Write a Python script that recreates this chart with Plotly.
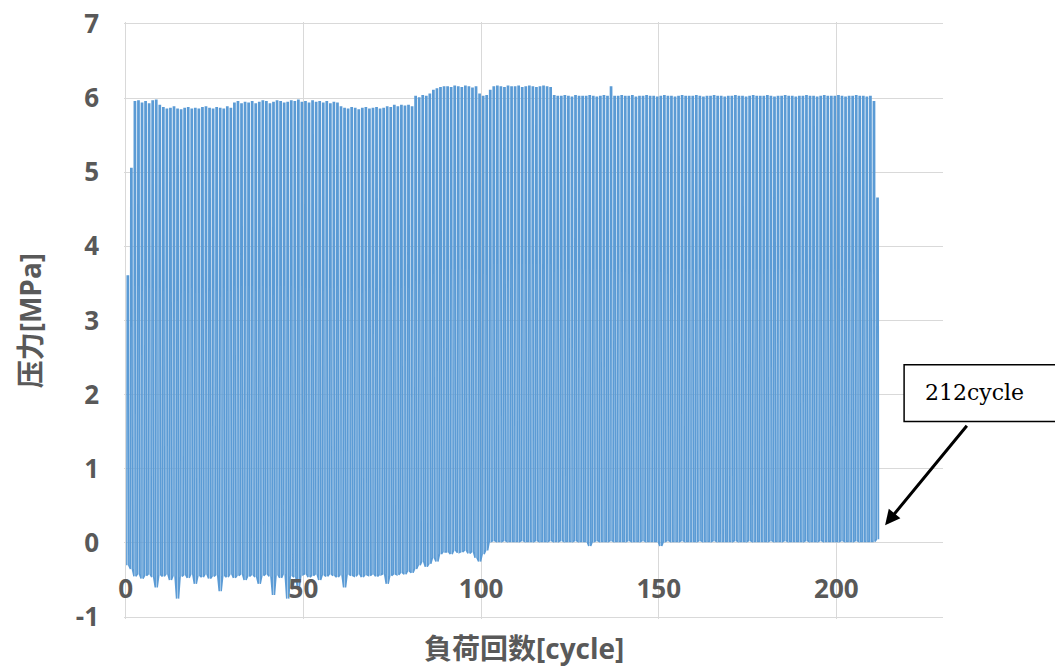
import plotly.graph_objects as go

# ---- data ----
cycle_peaks = [
    3.60, 5.05, 5.95, 5.96, 5.93, 5.95, 5.92, 5.96, 5.97, 5.90,
    5.87, 5.85, 5.86, 5.88, 5.85, 5.84, 5.86, 5.87, 5.85, 5.86,
    5.85, 5.87, 5.88, 5.86, 5.85, 5.87, 5.86, 5.85, 5.88, 5.86,
    5.93, 5.95, 5.92, 5.94, 5.93, 5.95, 5.92, 5.94, 5.96, 5.95,
    5.92, 5.94, 5.96, 5.95, 5.93, 5.94, 5.96, 5.95, 5.97, 5.94,
    5.95, 5.93, 5.96, 5.94, 5.95, 5.93, 5.95, 5.92, 5.94, 5.93,
    5.88, 5.86, 5.85, 5.87, 5.86, 5.84, 5.86, 5.87, 5.85, 5.86,
    5.87, 5.85, 5.86, 5.88, 5.87, 5.90, 5.88, 5.90, 5.89, 5.90,
    5.88, 6.02, 6.00, 6.03, 6.02, 6.05, 6.10, 6.12, 6.14, 6.15,
    6.15, 6.14, 6.16, 6.15, 6.14, 6.16, 6.15, 6.13, 6.15, 6.05,
    6.02, 6.03, 6.10, 6.15, 6.16, 6.15, 6.14, 6.16, 6.15, 6.15,
    6.16, 6.14, 6.15, 6.16, 6.15, 6.14, 6.15, 6.16, 6.15, 6.14,
    6.03, 6.02, 6.02, 6.03, 6.02, 6.01, 6.03, 6.02, 6.02, 6.02,
    6.03, 6.02, 6.01, 6.02, 6.03, 6.02, 6.15, 6.02, 6.02, 6.03,
    6.02, 6.02, 6.03, 6.01, 6.02, 6.02, 6.03, 6.02, 6.02, 6.01,
    6.02, 6.03, 6.02, 6.02, 6.01, 6.02, 6.03, 6.02, 6.02, 6.02,
    6.03, 6.02, 6.01, 6.02, 6.02, 6.03, 6.02, 6.02, 6.01, 6.02,
    6.02, 6.03, 6.02, 6.02, 6.01, 6.02, 6.03, 6.02, 6.02, 6.02,
    6.03, 6.02, 6.01, 6.02, 6.02, 6.03, 6.02, 6.02, 6.01, 6.02,
    6.02, 6.03, 6.02, 6.02, 6.01, 6.02, 6.03, 6.02, 6.02, 6.02,
    6.03, 6.02, 6.01, 6.02, 6.02, 6.03, 6.02, 6.02, 6.01, 6.02,
    5.95, 4.65,
]

cycle_troughs = [
    -0.30, -0.35, -0.45, -0.42, -0.48, -0.44, -0.42, -0.46, -0.60, -0.43,
    -0.45, -0.42, -0.50, -0.44, -0.75, -0.45, -0.43, -0.47, -0.42, -0.55,
    -0.44, -0.46, -0.42, -0.48, -0.45, -0.43, -0.65, -0.44, -0.46, -0.42,
    -0.47, -0.44, -0.42, -0.50, -0.45, -0.43, -0.46, -0.55, -0.44, -0.42,
    -0.45, -0.70, -0.43, -0.47, -0.42, -0.75, -0.44, -0.46, -0.60, -0.43,
    -0.42, -0.46, -0.44, -0.42, -0.50, -0.43, -0.45, -0.42, -0.44, -0.46,
    -0.43, -0.60, -0.42, -0.44, -0.45, -0.42, -0.46, -0.43, -0.44, -0.42,
    -0.45, -0.43, -0.42, -0.55, -0.44, -0.42, -0.43, -0.40, -0.42, -0.38,
    -0.40, -0.35, -0.30, -0.25, -0.32, -0.28, -0.20, -0.25, -0.15, -0.12,
    -0.12, -0.15, -0.10, -0.13, -0.12, -0.10, -0.14, -0.12, -0.20, -0.25,
    -0.15, -0.10, 0.02, 0.03, 0.02, 0.02, 0.03, 0.02, 0.02, 0.02,
    0.02, 0.03, 0.02, 0.02, 0.02, 0.03, 0.02, 0.02, 0.02, 0.03,
    0.02, 0.02, 0.03, 0.02, 0.02, 0.02, 0.03, 0.02, 0.02, 0.02,
    -0.04, 0.02, 0.03, 0.02, 0.02, 0.02, 0.03, 0.02, 0.02, 0.02,
    0.02, 0.03, 0.02, 0.02, 0.02, 0.03, 0.02, 0.02, 0.02, 0.02,
    -0.04, 0.02, 0.03, 0.02, 0.02, 0.02, 0.03, 0.02, 0.02, 0.02,
    0.02, 0.03, 0.02, 0.02, 0.02, 0.03, 0.02, 0.02, 0.02, 0.02,
    0.02, 0.03, 0.02, 0.02, 0.02, 0.03, 0.02, 0.02, 0.02, 0.02,
    0.02, 0.03, 0.02, 0.02, 0.02, 0.03, 0.02, 0.02, 0.02, 0.02,
    0.02, 0.03, 0.02, 0.02, 0.02, 0.03, 0.02, 0.02, 0.02, 0.02,
    0.02, 0.03, 0.02, 0.02, 0.02, 0.03, 0.02, 0.02, 0.02, 0.02,
    0.02, 0.05,
]

x_ticks = [0, 50, 100, 150, 200]
y_ticks = [-1, 0, 1, 2, 3, 4, 5, 6, 7]
y_tick_text = ["-1", "0", "1", "2", "3", "4", "5", "6", "7"]
x_title = "負荷回数[cycle]"
y_title = "压力[MPa]"
note_text = "212cycle"
note_cycle = 213.7
note_value = 0.24

# one load cycle: rise, hold at peak, release, hold at bottom
phase = [-0.70, -0.60, -0.25, -0.15]
xs, ys = [], []
for k, (pk, tr) in enumerate(zip(cycle_peaks, cycle_troughs), start=1):
    xs += [k + p for p in phase]
    ys += [tr, pk, pk, tr]

fig = go.Figure()
fig.add_trace(go.Scatter(
    x=xs, y=ys, mode="lines",
    line=dict(color="#5B9BD5", width=1.5),
    showlegend=False, hoverinfo="skip",
))

tick_font = dict(family="Open Sans, Noto Sans CJK JP", size=26, color="#595959", weight="bold")
title_font = dict(family="Open Sans, Noto Sans CJK SC", size=28, color="#595959", weight="bold")

fig.update_layout(
    width=1063, height=668,
    paper_bgcolor="white", plot_bgcolor="white",
    margin=dict(l=116, r=128, t=14, b=57, autoexpand=False),
    xaxis=dict(
        range=[-0.5, 230], tickvals=x_ticks, showgrid=True, gridcolor="#D9D9D9", gridwidth=1,
        zeroline=False, showline=False, ticks="", tickfont=tick_font,
        anchor="free", position=0.127, ticklabelstandoff=28, automargin=False,
        ticklabeloverflow="allow",
    ),
    yaxis=dict(
        range=[-1.025, 7.025], tickvals=y_ticks, ticktext=y_tick_text, showgrid=True,
        gridcolor="#D9D9D9", gridwidth=1,
        zeroline=False, showline=False, ticks="", tickfont=tick_font,
        ticklabelstandoff=24, automargin=False, ticklabeloverflow="allow",
    ),
)

# axis titles
fig.add_annotation(text=x_title, xref="paper", yref="paper", x=0.488, y=-0.049,
                   yanchor="middle", showarrow=False, font=title_font)
fig.add_annotation(text=y_title, xref="paper", yref="paper", x=-0.115, y=0.5,
                   textangle=-90, xanchor="center", showarrow=False, font=title_font)

# callout box
fig.add_shape(type="rect", xref="paper", yref="paper",
              x0=0.9525, x1=1.17, y0=0.331, y1=0.426,
              line=dict(color="black", width=1.5), fillcolor="white", layer="above")
fig.add_annotation(text=note_text, xref="paper", yref="paper", x=0.976, y=0.379,
                   xanchor="left", yanchor="middle", showarrow=False,
                   font=dict(family="DejaVu Serif", size=22, color="black"))
fig.add_annotation(text="", x=note_cycle, y=note_value, xref="x", yref="y",
                   showarrow=True, ax=83, ay=-101, arrowhead=2, arrowsize=1,
                   arrowwidth=3, arrowcolor="black")

fig.write_html("out.html")
